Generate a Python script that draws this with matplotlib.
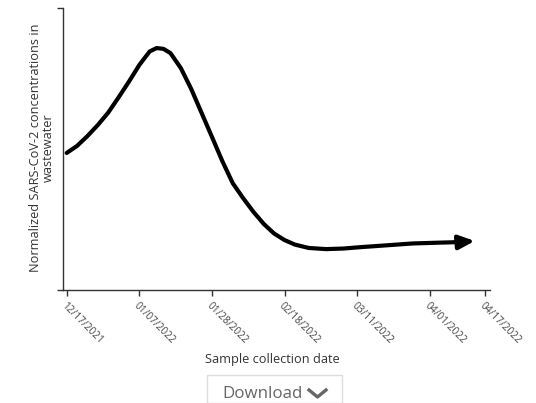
import numpy as np
import pandas as pd
import matplotlib
matplotlib.use("Agg")
import matplotlib.pyplot as plt
from matplotlib.patches import Rectangle
from matplotlib.lines import Line2D

plt.rcParams['font.family'] = ['Open Sans', 'DejaVu Sans']

# =========================
# DATA
# =========================
dates = ["2021-12-17", "2021-12-20", "2021-12-23", "2021-12-26", "2021-12-29",
         "2022-01-01", "2022-01-04", "2022-01-07", "2022-01-10", "2022-01-12",
         "2022-01-14", "2022-01-16", "2022-01-19", "2022-01-22", "2022-01-25",
         "2022-01-28", "2022-01-31", "2022-02-03", "2022-02-06", "2022-02-09",
         "2022-02-12", "2022-02-15", "2022-02-18", "2022-02-21", "2022-02-25",
         "2022-03-02", "2022-03-07", "2022-03-12", "2022-03-19", "2022-03-27",
         "2022-04-04", "2022-04-10", "2022-04-14"]
values = [0.486, 0.511, 0.546, 0.585, 0.629,
          0.683, 0.739, 0.798, 0.846, 0.858,
          0.855, 0.840, 0.787, 0.713, 0.628,
          0.543, 0.457, 0.379, 0.326, 0.277,
          0.234, 0.200, 0.177, 0.161, 0.149,
          0.145, 0.147, 0.152, 0.158, 0.165,
          0.168, 0.170, 0.174]
tick_dates = ["2021-12-17", "2022-01-07", "2022-01-28", "2022-02-18",
              "2022-03-11", "2022-04-01", "2022-04-17"]

x = pd.to_datetime(dates)
xt = pd.to_datetime(tick_dates)

# =========================
# FIGURE
# =========================
W, H = 536, 403
fig = plt.figure(figsize=(W / 100, H / 100), dpi=100)
ax = fig.add_axes([63 / W, 1 - 290 / H, (490 - 63) / W, (290 - 8) / H])

ax.plot(x[:-1], values[:-1], color='black', lw=3, solid_capstyle='round',
        solid_joinstyle='round')
ax.annotate('', xy=(x[-1], values[-1]), xytext=(x[-2], values[-2]),
            arrowprops=dict(arrowstyle='-|>,head_length=0.95,head_width=0.42',
                            color='black', lw=3, shrinkA=0, shrinkB=0,
                            mutation_scale=10))

ax.set_xlim(xt[0] - pd.Timedelta(days=1.07), xt[-1] + pd.Timedelta(days=1.4))
ax.set_ylim(0, 1)

for s in ['top', 'right']:
    ax.spines[s].set_visible(False)
for s in ['left', 'bottom']:
    ax.spines[s].set_color('#333333')
    ax.spines[s].set_linewidth(1)

ax.set_yticks([0, 1])
ax.set_yticklabels([])
ax.tick_params(axis='y', length=4.5, width=1, color='#333333')

ax.set_xticks(xt)
ax.set_xticklabels([d.strftime('%m/%d/%Y') for d in xt])
ax.tick_params(axis='x', length=4.5, width=1, color='#333333', pad=3,
               labelsize=7.3, labelcolor='#444444')
for lab in ax.get_xticklabels():
    lab.set_rotation(-45)
    lab.set_ha('left')
    lab.set_va('top')
    lab.set_rotation_mode('anchor')

fig.text(42 / W, 1 - 148 / H,
         "Normalized SARS-CoV-2 concentrations in\nwastewater",
         rotation=90, ha='center', va='center', multialignment='center',
         fontsize=9.2, color='#333333', linespacing=0.95)
fig.text(272 / W, 1 - 359 / H, "Sample collection date", ha='center',
         va='center', fontsize=9.2, color='#333333')

# download button
fig.add_artist(Rectangle((207 / W, 0), (342 - 207) / W, (403 - 375) / H,
                         transform=fig.transFigure, facecolor='white',
                         edgecolor='#dddddd', lw=1))
fig.text(222 / W, 1 - 398 / H, "Download", ha='left', va='baseline',
         fontsize=12.2, color='#666666')
fig.add_artist(Line2D([309 / W, 317.5 / W, 326 / W],
                      [1 - 390 / H, 1 - 397 / H, 1 - 390 / H],
                      transform=fig.transFigure, color='#666666', lw=2.4))

fig.savefig("out.png", dpi=100)
